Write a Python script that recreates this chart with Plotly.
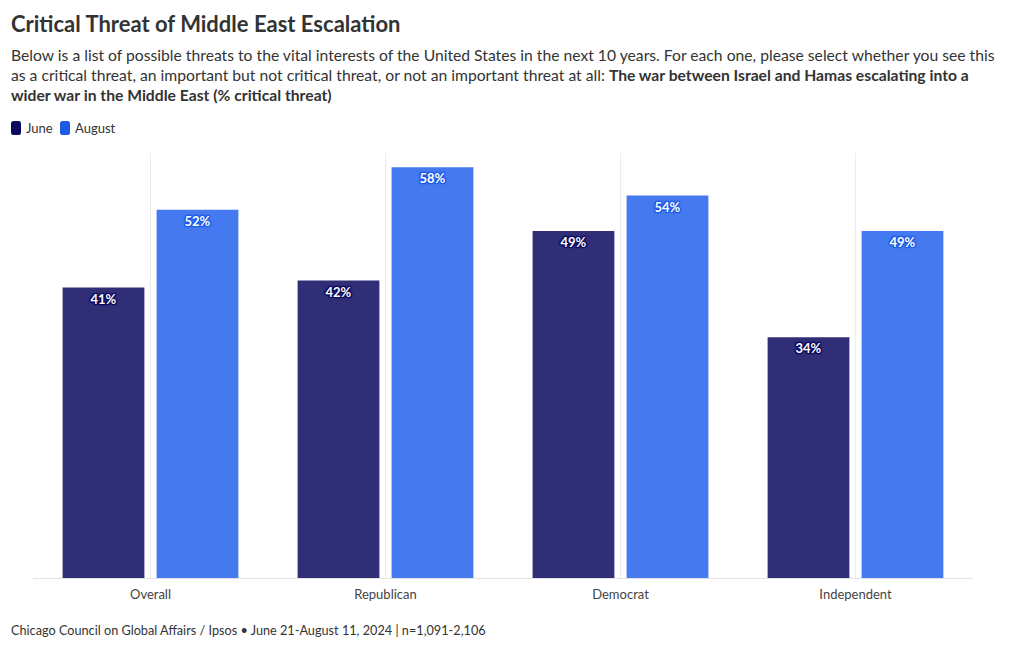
import plotly.graph_objects as go

categories = ["Overall", "Republican", "Democrat", "Independent"]
june = [41, 42, 49, 34]
august = [52, 58, 54, 49]
series_names = ["June", "August"]

bar_colors = ["#302e77", "#4479ef"]
legend_colors = ["#0b0a5e", "#1e5ae6"]
shadow_colors = ["#0b0a5e", "#1e5ae6"]

FONT = "Lato"
W, H = 1012, 642
L, R, T, B = 25, 47, 145, 72
PW, PH = W - L - R, H - T - B


def px(fx):
    return (fx - L) / PW


def py(fy):
    return (H - B - fy) / PH


fig = go.Figure()
for name, vals, bc, sc in zip(series_names, [june, august], bar_colors, shadow_colors):
    sh = ", ".join(f"{dx}px {dy}px 1px {sc}" for dx, dy in [(1, 1), (-1, -1), (1, -1), (-1, 1), (0, 1), (1, 0), (0, -1), (-1, 0)])
    fig.add_trace(go.Bar(
        x=categories, y=vals, name=name, showlegend=False,
        marker=dict(color=bc, line=dict(width=0)),
        text=[f"{v}%" for v in vals],
        textposition="inside", insidetextanchor="end",
        textangle=0,
        textfont=dict(family=FONT, size=13, color="white", weight="bold", shadow=sh),
        hoverinfo="skip",
    ))

fig.update_layout(
    width=W, height=H,
    margin=dict(l=L, r=R, t=T, b=B),
    paper_bgcolor="white", plot_bgcolor="white",
    font=dict(family=FONT, color="#333333"),
    barmode="group", bargap=0.2, bargroupgap=0.13,
    showlegend=False,
    title=dict(text="<b>Critical Threat of Middle East Escalation</b>",
               x=3 / W, xanchor="left", xref="container",
               y=1 - 16 / H, yanchor="middle", yref="container",
               font=dict(family=FONT, size=22, color="#333333")),
    xaxis=dict(showgrid=True, gridcolor="#ececec", gridwidth=1,
               showline=True, linecolor="#e3e3e3", linewidth=1,
               ticks="", ticklabelstandoff=4,
               tickfont=dict(family=FONT, size=13, color="#444444"),
               range=[-0.5, 3.5], fixedrange=True),
    yaxis=dict(range=[0, 60], showgrid=False, showticklabels=False,
               zeroline=False, showline=False, fixedrange=True),
)

# legend drawn as rounded swatches + labels
legend_items = [(3, 16, "June"), (52, 65, "August")]
for (sx, tx, name), lc in zip(legend_items, legend_colors):
    x0, x1, y0, y1 = px(sx), px(sx + 10), py(113), py(127)
    rx, ry = 2.5 / PW, 2.5 / PH
    path = (f"M {x0+rx},{y0} L {x1-rx},{y0} Q {x1},{y0} {x1},{y0-ry} "
            f"L {x1},{y1+ry} Q {x1},{y1} {x1-rx},{y1} L {x0+rx},{y1} "
            f"Q {x0},{y1} {x0},{y1+ry} L {x0},{y0-ry} Q {x0},{y0} {x0+rx},{y0} Z")
    fig.add_shape(type="path", xref="paper", yref="paper", path=path,
                  fillcolor=lc, line=dict(width=0))
    fig.add_annotation(text=name, xref="paper", yref="paper",
                       x=px(tx), y=py(120), xanchor="left", yanchor="middle",
                       showarrow=False, font=dict(family=FONT, size=13, color="#333333"))

subtitle_lines = [
    "Below is a list of possible threats to the vital interests of the United States in the next 10 years. For each one, please select whether you see this",
    "as a critical threat, an important but not critical threat, or not an important threat at all: <b>The war between Israel and Hamas escalating into a</b>",
    "<b>wider war in the Middle East (% critical threat)</b>",
]
for i, line in enumerate(subtitle_lines):
    fig.add_annotation(text=line, xref="paper", yref="paper",
                       x=px(1), y=py(47 + 20 * i), xanchor="left", yanchor="middle",
                       align="left", showarrow=False,
                       font=dict(family=FONT, size=15.7, color="#333333"))
fig.add_annotation(text="Chicago Council on Global Affairs / Ipsos • June 21-August 11, 2024 | n=1,091-2,106",
                   xref="paper", yref="paper",
                   x=px(1), y=py(622), xanchor="left", yanchor="middle",
                   align="left", showarrow=False,
                   font=dict(family=FONT, size=12.7, color="#333333"))

fig.write_html("out.html")
